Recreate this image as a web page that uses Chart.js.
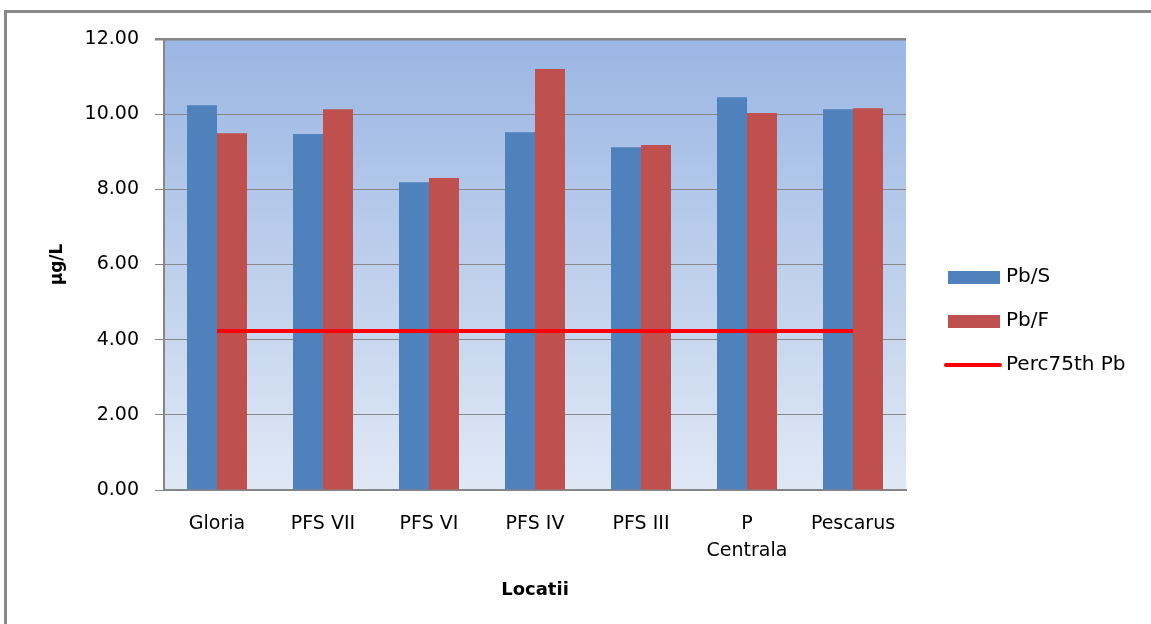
<!DOCTYPE html>
<html>
<head>
<meta charset="utf-8">
<script src="https://cdn.jsdelivr.net/npm/chart.js@4.4.1/dist/chart.umd.min.js"></script>
<style>
  body { margin: 0; background: #fff; }
  #frame {
    position: absolute; left: 4px; top: 10px; width: 1160px; height: 640px;
    border-top: 3px solid #898989; border-left: 3px solid #898989;
  }
  #wrap { position: absolute; left: 0; top: 0; width: 1151px; height: 624px; }
</style>
</head>
<body>
<div id="frame"></div>
<div id="wrap"><canvas id="myChart" width="1151" height="624"></canvas></div>
<script>
const labels = ["Gloria", "PFS VII", "PFS VI", "PFS IV", "PFS III", ["P", "Centrala"], "Pescarus"];
const pbS = [10.24, 9.47, 8.19, 9.52, 9.12, 10.45, 10.13];
const pbF = [9.49, 10.13, 8.30, 11.20, 9.18, 10.03, 10.16];
const perc75 = [4.23, 4.23, 4.23, 4.23, 4.23, 4.23, 4.23];
const yTicks = [0, 2, 4, 6, 8, 10, 12];

const FONT = "'DejaVu Sans', Verdana, sans-serif";
const GRID = "#868686";

// gradient fill behind the plot area
const plotBackground = {
  id: "plotBackground",
  beforeDraw(chart) {
    const { ctx, chartArea: a } = chart;
    const g = ctx.createLinearGradient(0, a.top, 0, a.bottom);
    g.addColorStop(0, "#9ab6e3");
    g.addColorStop(1, "#e0e8f5");
    ctx.save();
    ctx.fillStyle = g;
    ctx.fillRect(a.left, a.top, a.right - a.left, a.bottom - a.top);
    ctx.restore();
  },
};

// legend on the right, lower than the plot centre like the original
const sideLegend = {
  id: "sideLegend",
  afterDraw(chart) {
    const ctx = chart.ctx;
    const x = 948, w = 52, y0 = 277, step = 44;
    ctx.save();
    ctx.font = "20px " + FONT;
    ctx.textBaseline = "middle";
    ctx.fillStyle = "#000";
    chart.data.datasets.forEach((ds, i) => {
      const y = y0 + i * step;
      if (ds.type === "line") {
        ctx.strokeStyle = ds.borderColor;
        ctx.lineWidth = 4;
        ctx.lineCap = "round";
        ctx.beginPath();
        ctx.moveTo(x - 2, y);
        ctx.lineTo(x + w, y);
        ctx.stroke();
      } else {
        ctx.fillStyle = ds.backgroundColor;
        ctx.fillRect(x, y - 6, w, 13);
      }
      ctx.fillStyle = "#000";
      ctx.fillText(ds.label, x + w + 6, y);
    });
    ctx.restore();
  },
};

new Chart(document.getElementById("myChart"), {
  type: "bar",
  data: {
    labels: labels,
    datasets: [
      { label: "Pb/S", data: pbS, backgroundColor: "#4f81bd", order: 1,
        categoryPercentage: 0.566, barPercentage: 1.0 },
      { label: "Pb/F", data: pbF, backgroundColor: "#c0504d", order: 1,
        categoryPercentage: 0.566, barPercentage: 1.0 },
      { type: "line", label: "Perc75th Pb", data: perc75, borderColor: "#ff0000",
        borderWidth: 4, pointRadius: 0, fill: false, order: 0 },
    ],
  },
  options: {
    responsive: false,
    animation: false,
    layout: { padding: { left: 0, top: 39, right: 245, bottom: 0 } },
    plugins: { legend: { display: false }, tooltip: { enabled: false } },
    scales: {
      x: {
        grid: { display: false },
        border: { display: true, color: GRID, width: 2 },
        ticks: { color: "#000", font: { family: FONT, size: 19, lineHeight: 1.45 },
          padding: 12, maxRotation: 0, autoSkip: false },
        title: { display: true, text: "Locatii", color: "#000",
          font: { family: FONT, size: 18, weight: "bold" }, padding: { top: 0, bottom: 23 } },
        afterFit(scale) { scale.height = 134; },
      },
      y: {
        min: 0,
        max: 12,
        afterBuildTicks(scale) { scale.ticks = yTicks.map((v) => ({ value: v })); },
        grid: { color: GRID, lineWidth: (c) => (c.tick && c.tick.value === 12 ? 2.5 : 1), tickLength: 9 },
        border: { display: true, color: GRID, width: 2 },
        ticks: { color: "#000", font: { family: FONT, size: 19 }, padding: 16,
          callback: (v) => Number(v).toFixed(2) },
        title: { display: true, text: "µg/L", color: "#000",
          font: { family: FONT, size: 17, weight: "bold" }, padding: { top: 47, bottom: 0 } },
        afterFit(scale) { scale.width = 164; },
      },
    },
  },
  plugins: [plotBackground, sideLegend],
});
</script>
</body>
</html>
